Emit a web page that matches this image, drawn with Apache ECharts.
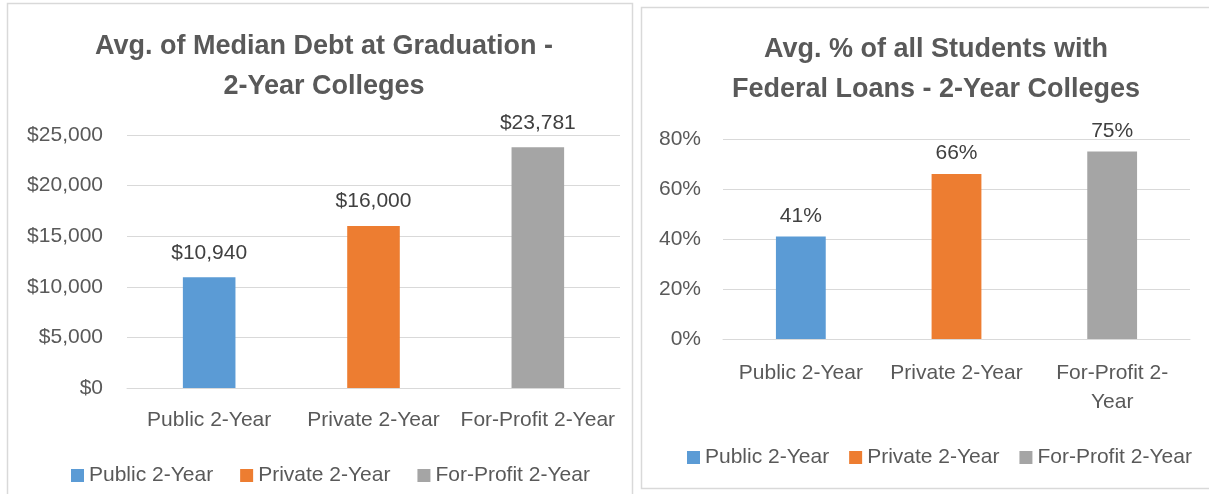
<!DOCTYPE html>
<html>
<head>
<meta charset="utf-8">
<script src="https://cdn.jsdelivr.net/npm/echarts@6/dist/echarts.min.js"></script>
<style>
html, body { margin: 0; padding: 0; background: #fff; }
#chart { width: 1209px; height: 494px; }
</style>
</head>
<body>
<div id="chart"></div>
<script>
// categories / series
var categories = ['Public 2-Year', 'Private 2-Year', 'For-Profit 2-Year'];
var debtValues = [10940, 16000, 23781];
var loanValues = [41, 66, 75];
var colors = ['#5b9bd5', '#ed7d31', '#a5a5a5'];

var debtTicks = { min: 0, max: 25000, interval: 5000 };
var loanTicks = { min: 0, max: 80, interval: 20 };

var font = 'Liberation Sans, Arial, sans-serif';
var textColor = '#595959';
var lineColor = '#d9d9d9';

var chart = echarts.init(document.getElementById('chart'));

function money(v) {
	return '$' + Number(v).toLocaleString('en-US');
}

// one series per category, stacked so they sit in the middle of the slot
function buildSeries(values, axisIdx, fmt) {
	return categories.map(function (name, i) {
		var data = values.map(function (v, j) { return j === i ? v : null; });
		return {
			name: name,
			type: 'bar',
			stack: 'g' + axisIdx,
			xAxisIndex: axisIdx,
			yAxisIndex: axisIdx,
			barWidth: '32%',
			itemStyle: { color: colors[i] },
			label: {
				show: true,
				position: 'top',
				distance: axisIdx === 0 ? 14 : 10,
				color: '#404040',
				fontFamily: font,
				fontSize: 21,
				formatter: function (p) { return fmt(p.value); }
			},
			data: data
		};
	});
}

var option = {
	animation: false,
	color: colors,
	title: [{
		text: 'Avg. of Median Debt at Graduation -\n2-Year Colleges',
		left: 319,
		top: 22,
		textAlign: 'center',
		textStyle: { fontFamily: font, fontSize: 27, fontWeight: 'bold', color: textColor, lineHeight: 40 }
	}, {
		text: 'Avg. % of all Students with\nFederal Loans - 2-Year Colleges',
		left: 931,
		top: 25,
		textAlign: 'center',
		textStyle: { fontFamily: font, fontSize: 27, fontWeight: 'bold', color: textColor, lineHeight: 40 }
	}],
	legend: [{
		data: categories,
		left: 66,
		top: 460,
		itemWidth: 13,
		itemHeight: 13,
		itemGap: 27,
		icon: 'rect',
		textStyle: { fontFamily: font, fontSize: 21, color: textColor }
	}, {
		data: categories,
		left: 682,
		top: 442,
		itemWidth: 13,
		itemHeight: 13,
		itemGap: 20,
		icon: 'rect',
		textStyle: { fontFamily: font, fontSize: 21, color: textColor }
	}],
	grid: [
		{ left: 127, right: 589, top: 135, bottom: 106 },
		{ left: 723, right: 19, top: 139, bottom: 155 }
	],
	xAxis: [{
		gridIndex: 0,
		type: 'category',
		data: categories,
		axisLine: { lineStyle: { color: lineColor, width: 1 } },
		axisTick: { show: false },
		axisLabel: { interval: 0, margin: 22, fontFamily: font, fontSize: 21, color: textColor }
	}, {
		gridIndex: 1,
		type: 'category',
		data: categories,
		axisLine: { lineStyle: { color: lineColor, width: 1 } },
		axisTick: { show: false },
		axisLabel: {
			interval: 0,
			margin: 20,
			fontFamily: font,
			fontSize: 21,
			lineHeight: 29,
			color: textColor,
			formatter: function (v) { return v === 'For-Profit 2-Year' ? 'For-Profit 2-\nYear' : v; }
		}
	}],
	yAxis: [{
		gridIndex: 0,
		type: 'value',
		min: debtTicks.min,
		max: debtTicks.max,
		interval: debtTicks.interval,
		axisLine: { show: false },
		axisTick: { show: false },
		splitLine: { lineStyle: { color: lineColor, width: 1 } },
		axisLabel: { margin: 24, fontFamily: font, fontSize: 21, color: textColor, formatter: money }
	}, {
		gridIndex: 1,
		type: 'value',
		min: loanTicks.min,
		max: loanTicks.max,
		interval: loanTicks.interval,
		axisLine: { show: false },
		axisTick: { show: false },
		splitLine: { lineStyle: { color: lineColor, width: 1 } },
		axisLabel: { margin: 22, fontFamily: font, fontSize: 21, color: textColor, formatter: '{value}%' }
	}],
	graphic: [{
		type: 'rect',
		shape: { x: 7.5, y: 3.5, width: 625, height: 520 },
		style: { fill: null, stroke: lineColor, lineWidth: 1.5 },
		silent: true
	}, {
		type: 'rect',
		shape: { x: 641.5, y: 7.5, width: 600, height: 481 },
		style: { fill: null, stroke: lineColor, lineWidth: 1.5 },
		silent: true
	}],
	series: buildSeries(debtValues, 0, money).concat(
		buildSeries(loanValues, 1, function (v) { return v + '%'; })
	)
};
chart.setOption(option);
</script>
</body>
</html>
